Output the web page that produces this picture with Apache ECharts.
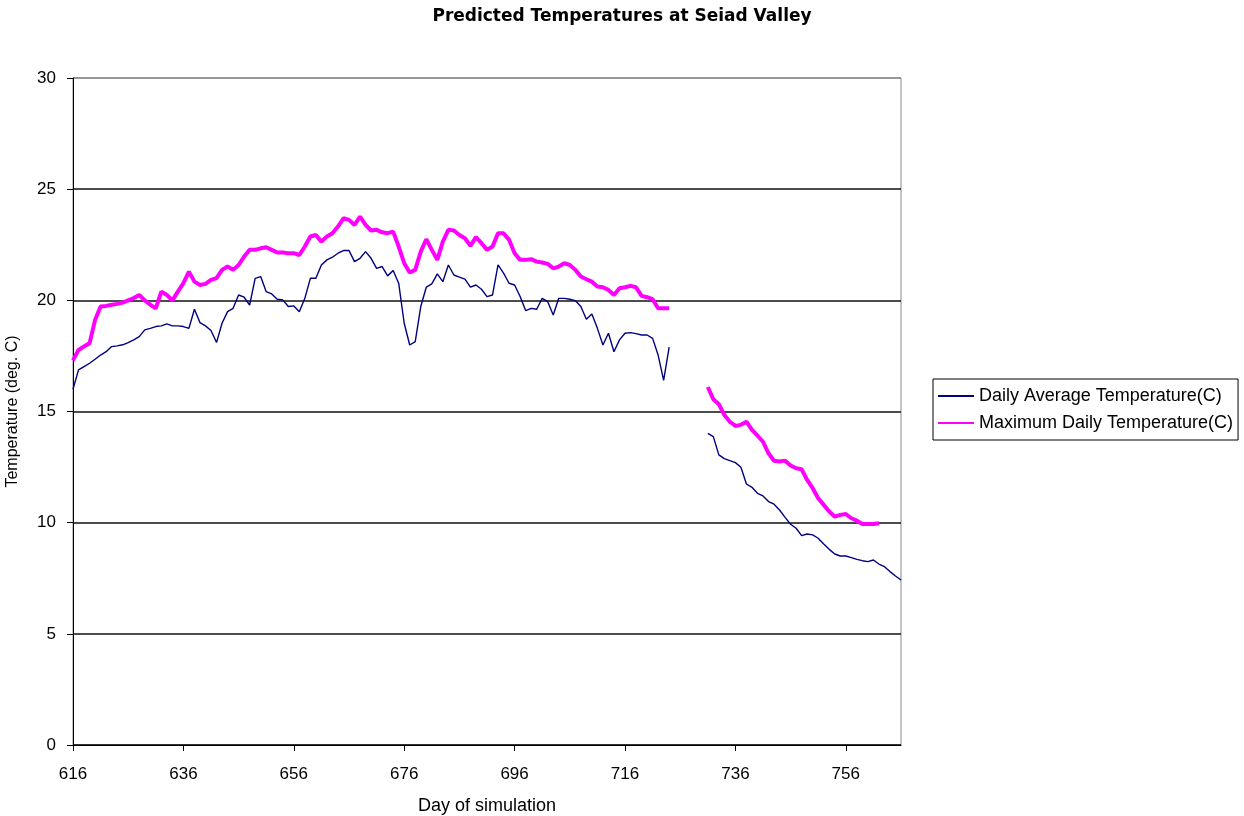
<!DOCTYPE html>
<html>
<head>
<meta charset="utf-8">
<script src="https://cdn.jsdelivr.net/npm/echarts@6/dist/echarts.min.js"></script>
<style>
  html, body { margin: 0; padding: 0; background: #fff; }
  #chart { width: 1244px; height: 816px; }
</style>
</head>
<body>
<div id="chart"></div>
<script>
// x axis: day of simulation, 616 .. 766
const firstDay = 616;
const lastDay = 766;
const labelStep = 20;
const days = [];
for (let d = firstDay; d <= lastDay; d++) days.push(String(d));

const yTicks = [0, 5, 10, 15, 20, 25, 30];

// one value per day, null = no data (gap 725-730)
const avgTemp = [
  16.0, 16.87, 17.02, 17.17, 17.35, 17.54, 17.69, 17.92, 17.95, 18.0,   // 616
  18.1, 18.22, 18.37, 18.67, 18.74, 18.82, 18.85, 18.94, 18.85, 18.85,  // 626
  18.82, 18.74, 19.6, 19.0, 18.85, 18.64, 18.1, 18.97, 19.49, 19.64,    // 636
  20.24, 20.14, 19.79, 20.99, 21.07, 20.39, 20.29, 20.05, 20.02, 19.72, // 646
  19.75, 19.49, 20.09, 20.99, 20.99, 21.59, 21.82, 21.94, 22.12, 22.24, // 656
  22.24, 21.74, 21.89, 22.19, 21.89, 21.44, 21.52, 21.1, 21.34, 20.77,  // 666
  18.97, 17.99, 18.14, 19.72, 20.59, 20.74, 21.19, 20.84, 21.59, 21.14, // 676
  21.04, 20.95, 20.59, 20.69, 20.5, 20.17, 20.24, 21.59, 21.22, 20.77,  // 686
  20.69, 20.17, 19.54, 19.64, 19.6, 20.09, 19.94, 19.34, 20.09, 20.09,  // 696
  20.05, 19.99, 19.72, 19.15, 19.39, 18.74, 17.99, 18.52, 17.69, 18.22, // 706
  18.52, 18.55, 18.5, 18.44, 18.44, 18.29, 17.54, 16.4, 17.9, null,     // 716
  null, null, null, null, null, 14.02, 13.87, 13.05, 12.88, 12.79,      // 726
  12.7, 12.49, 11.74, 11.59, 11.32, 11.2, 10.95, 10.83, 10.57, 10.24,   // 736
  9.93, 9.75, 9.42, 9.49, 9.45, 9.3, 9.04, 8.8, 8.59, 8.5,              // 746
  8.5, 8.43, 8.35, 8.29, 8.25, 8.32, 8.14, 8.02, 7.8, 7.6,              // 756
  7.42                                                                  // 766
];

const maxTemp = [
  17.3, 17.77, 17.92, 18.07, 19.12, 19.72, 19.75, 19.8, 19.84, 19.9,    // 616
  20.0, 20.1, 20.24, 20.0, 19.8, 19.64, 20.39, 20.24, 20.0, 20.39,      // 626
  20.77, 21.29, 20.84, 20.69, 20.74, 20.92, 21.0, 21.37, 21.52, 21.37,  // 636
  21.59, 21.97, 22.27, 22.27, 22.34, 22.39, 22.27, 22.15, 22.15, 22.12, // 646
  22.12, 22.04, 22.42, 22.87, 22.94, 22.64, 22.87, 23.02, 23.32, 23.69, // 656
  23.62, 23.39, 23.77, 23.39, 23.14, 23.17, 23.06, 23.02, 23.09, 22.42, // 666
  21.67, 21.25, 21.37, 22.19, 22.75, 22.27, 21.82, 22.64, 23.17, 23.14, // 676
  22.94, 22.79, 22.45, 22.84, 22.57, 22.27, 22.42, 23.02, 23.02, 22.72, // 686
  22.12, 21.82, 21.82, 21.85, 21.74, 21.7, 21.64, 21.44, 21.52, 21.67,  // 696
  21.59, 21.37, 21.07, 20.95, 20.84, 20.62, 20.59, 20.47, 20.24, 20.54, // 706
  20.59, 20.65, 20.59, 20.2, 20.14, 20.05, 19.64, 19.64, 19.64, null,   // 716
  null, null, null, null, null, 16.1, 15.55, 15.33, 14.84, 14.54,       // 726
  14.35, 14.4, 14.54, 14.17, 13.91, 13.64, 13.12, 12.78, 12.75, 12.79,  // 736
  12.57, 12.45, 12.4, 11.92, 11.55, 11.1, 10.8, 10.5, 10.27, 10.35,     // 746
  10.39, 10.2, 10.09, 9.94, 9.94, 9.94, 9.97, null, null, null,         // 756
  null                                                                  // 766
];

const seriesNames = ['Daily Average Temperature(C)', 'Maximum Daily Temperature(C)'];

const font = 'Liberation Sans, Arial, sans-serif';
const everyStep = (i) => i % labelStep === 0;

const chart = echarts.init(document.getElementById('chart'), null, { renderer: 'canvas' });

const option = {
  animation: false,
  backgroundColor: '#fff',
  title: {
    text: 'Predicted Temperatures at Seiad Valley',
    left: 'center',
    top: 3,
    textStyle: { fontFamily: 'DejaVu Sans', fontSize: 17, fontWeight: 'bold', color: '#000' }
  },
  legend: {
    orient: 'vertical',
    left: 933,
    top: 379,
    padding: [7, 5, 7, 4],
    itemGap: 7,
    itemWidth: 36,
    itemHeight: 14,
    borderColor: '#000',
    borderWidth: 1,
    itemStyle: { opacity: 0 },
    data: seriesNames,
    textStyle: { fontFamily: font, fontSize: 18, lineHeight: 20, color: '#000' }
  },
  grid: {
    left: 73,
    right: 343,
    top: 78,
    bottom: 71,
    outerBoundsMode: 'none',
    containLabel: false,
    show: true,
    borderColor: '#888',
    borderWidth: 1
  },
  xAxis: {
    type: 'category',
    data: days,
    boundaryGap: false,
    name: 'Day of simulation',
    nameLocation: 'middle',
    nameGap: 52,
    nameTextStyle: { fontFamily: font, fontSize: 18, color: '#000' },
    axisLine: { lineStyle: { color: '#000', width: 1 } },
    axisTick: { interval: everyStep, length: 6, lineStyle: { color: '#000' } },
    axisLabel: { interval: everyStep, margin: 21, fontFamily: font, fontSize: 17, color: '#000' },
    splitLine: { show: false }
  },
  yAxis: {
    type: 'value',
    min: yTicks[0],
    max: yTicks[yTicks.length - 1],
    interval: 5,
    name: 'Temperature (deg. C)',
    nameLocation: 'middle',
    nameGap: 52,
    nameTextStyle: { fontFamily: font, fontSize: 16, color: '#000' },
    axisLine: { show: true, lineStyle: { color: '#000', width: 1 } },
    axisTick: { show: true, length: 6, lineStyle: { color: '#000' } },
    axisLabel: { margin: 17, fontFamily: font, fontSize: 17, color: '#000' },
    splitLine: {
      show: true,
      lineStyle: { color: ['#000', '#111', '#111', '#111', '#111', '#111', '#888'], width: 1.6 }
    }
  },
  series: [
    {
      name: seriesNames[0],
      type: 'line',
      data: avgTemp,
      symbol: 'none',
      connectNulls: false,
      lineStyle: { color: '#000080', width: 1.4 },
      itemStyle: { color: '#000080' }
    },
    {
      name: seriesNames[1],
      type: 'line',
      data: maxTemp,
      symbol: 'none',
      connectNulls: false,
      lineStyle: { color: '#ff00ff', width: 4 },
      itemStyle: { color: '#ff00ff' }
    }
  ]
};

chart.setOption(option);
</script>
</body>
</html>
